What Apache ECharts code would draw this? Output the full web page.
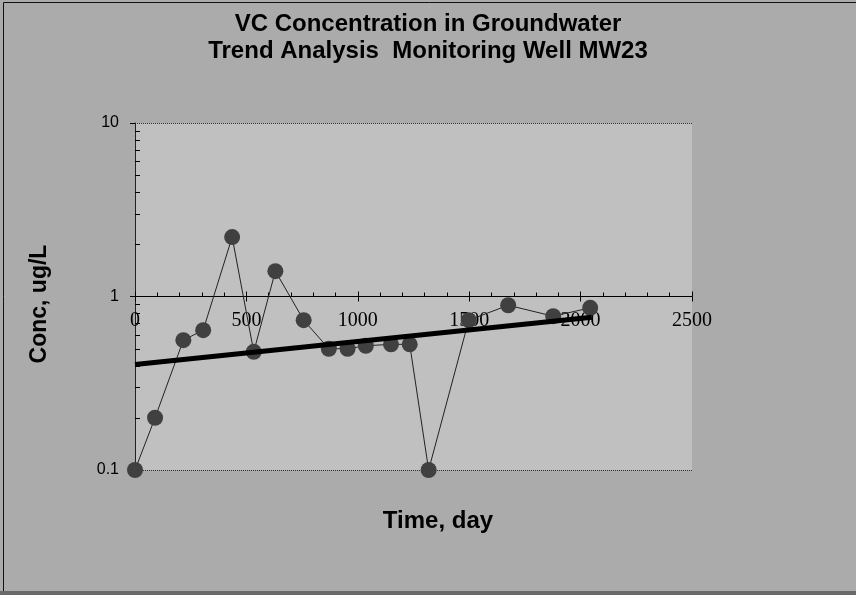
<!DOCTYPE html>
<html>
<head>
<meta charset="utf-8">
<script src="https://cdn.jsdelivr.net/npm/echarts@6/dist/echarts.min.js"></script>
<style>
  html, body { margin: 0; padding: 0; background: #ababab; }
  #chart { width: 856px; height: 595px; }
</style>
</head>
<body>
<div id="chart"></div>
<script>
// Sampling dates (days since first sample) and VC concentrations (ug/L)
const days = [0, 90, 217, 306, 436, 533, 630, 757, 870, 954, 1036, 1149, 1233, 1318, 1498, 1675, 1877, 2043];
const conc = [0.1, 0.2, 0.56, 0.64, 2.2, 0.48, 1.4, 0.73, 0.5, 0.5, 0.52, 0.53, 0.53, 0.1, 0.73, 0.89, 0.77, 0.86];

// Exponential trend fit, drawn as a straight line on the log axis
const trendDays = [0, 2050];
const trendConc = [0.405, 0.76];

// Axis ticks
const xTicks = [0, 500, 1000, 1500, 2000, 2500];
const yTicks = [0.1, 1, 10];
const yMinorTicks = [0.2, 0.3, 0.4, 0.5, 0.6, 0.7, 0.8, 0.9, 2, 3, 4, 5, 6, 7, 8, 9];

const titleLines = ['VC Concentration in Groundwater', 'Trend Analysis  Monitoring Well MW23'];
const xTitle = 'Time, day';
const yTitle = 'Conc, ug/L';

const sans = '"Liberation Sans", Arial, sans-serif';
const serif = '"Liberation Serif", "Times New Roman", serif';

const chart = echarts.init(document.getElementById('chart'), null, { renderer: 'canvas' });

const gridTop = 123, gridLeft = 135, gridW = 557, gridH = 347;
// x axis crosses the log y axis at 1 (middle of the 0.1..10 range)
const xAxisOffset = -gridH / 2;

const xAxisBase = {
  type: 'value',
  min: xTicks[0],
  max: xTicks[xTicks.length - 1],
  interval: xTicks[1] - xTicks[0],
  position: 'bottom',
  offset: xAxisOffset,
  splitLine: { show: false }
};

chart.setOption({
  animation: false,
  backgroundColor: '#ababab',
  title: {
    text: titleLines.join('\n'),
    left: 'center',
    top: 6,
    textStyle: { fontFamily: sans, fontSize: 24, fontWeight: 'bold', color: '#000', lineHeight: 27 }
  },
  grid: {
    left: gridLeft, top: gridTop, width: gridW, height: gridH,
    show: true, backgroundColor: '#c0c0c0', borderWidth: 0
  },
  xAxis: [
    Object.assign({}, xAxisBase, {
      axisLine: { onZero: false, lineStyle: { color: '#000', width: 1 } },
      axisTick: { show: true, inside: true, length: 5, lineStyle: { color: '#000' } },
      minorTick: { show: true, splitNumber: 5, length: 4, lineStyle: { color: '#000' } },
      axisLabel: {
        fontFamily: serif, fontSize: 20, color: '#000', margin: 14,
        formatter: v => String(v)
      }
    }),
    Object.assign({}, xAxisBase, {
      axisLine: { show: false, onZero: false },
      axisTick: { show: true, inside: false, length: 5, lineStyle: { color: '#000' } },
      axisLabel: { show: false }
    })
  ],
  yAxis: {
    type: 'log',
    logBase: 10,
    min: yTicks[0],
    max: yTicks[yTicks.length - 1],
    axisLine: { show: true, lineStyle: { color: '#222', width: 1 } },
    axisTick: { show: true, inside: false, length: 5, lineStyle: { color: '#000' } },
    axisLabel: { fontFamily: sans, fontSize: 16, color: '#000', margin: 16, formatter: v => String(v) },
    splitLine: { show: true, lineStyle: { color: '#333', type: 'dotted', width: 1 } }
  },
  graphic: [
    { type: 'line', shape: { x1: 3.5, y1: 2.5, x2: 3.5, y2: 591 }, style: { stroke: '#111', lineWidth: 1 } },
    { type: 'line', shape: { x1: 3.5, y1: 2.5, x2: 856, y2: 2.5 }, style: { stroke: '#111', lineWidth: 1 } },
    { type: 'rect', shape: { x: 0, y: 591, width: 856, height: 4 }, style: { fill: '#6a6a6a' } },
    {
      type: 'text', x: 40, y: 304, rotation: Math.PI / 2,
      style: { text: yTitle, fontFamily: sans, fontSize: 23, fontWeight: 'bold', fill: '#000', align: 'center', verticalAlign: 'middle' }
    },
    {
      type: 'text', x: 438, y: 521,
      style: { text: xTitle, fontFamily: sans, fontSize: 24, fontWeight: 'bold', fill: '#000', align: 'center', verticalAlign: 'middle' }
    }
  ],
  series: [
    {
      // minor ticks of the log axis at 2..9 of each decade, pointing into the plot
      type: 'custom',
      xAxisIndex: 0,
      silent: true,
      clip: false,
      z: 1,
      data: yMinorTicks.map(v => [xTicks[0], v]),
      renderItem: function (params, api) {
        const p = api.coord([api.value(0), api.value(1)]);
        return {
          type: 'line',
          shape: { x1: p[0], y1: Math.round(p[1]) + 0.5, x2: p[0] + 5, y2: Math.round(p[1]) + 0.5 },
          style: { stroke: '#000', lineWidth: 1 }
        };
      }
    },
    {
      name: 'VC',
      type: 'line',
      xAxisIndex: 0,
      clip: false,
      data: days.map((d, i) => [d, conc[i]]),
      symbol: 'circle',
      symbolSize: 16,
      itemStyle: { color: '#404040' },
      lineStyle: { color: '#222', width: 1 },
      z: 3
    },
    {
      name: 'Trend',
      type: 'line',
      xAxisIndex: 0,
      clip: false,
      data: trendDays.map((d, i) => [d, trendConc[i]]),
      symbol: 'none',
      lineStyle: { color: '#000', width: 5 },
      z: 4
    }
  ]
});
</script>
</body>
</html>
